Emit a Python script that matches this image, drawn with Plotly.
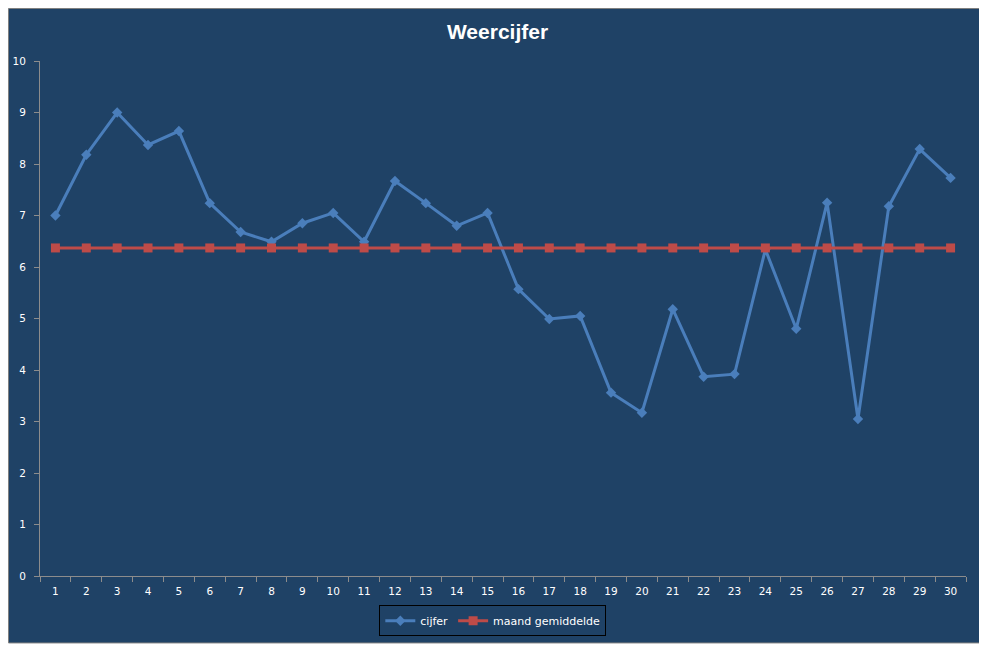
import plotly.graph_objs as go

# Data
dagen = [str(d) for d in range(1, 31)]
cijfer = [7.0, 8.18, 9.0, 8.37, 8.64, 7.24, 6.68, 6.49, 6.85, 7.05,
          6.49, 7.67, 7.24, 6.80, 7.05, 5.57, 4.99, 5.05, 3.56, 3.17,
          5.18, 3.87, 3.92, 6.34, 4.80, 7.25, 3.05, 7.18, 8.29, 7.73]
gemiddelde = [6.37] * 30

bg = '#1F4266'
white_font = dict(family='DejaVu Sans', size=10.5, color='white')

# Preparing data
data = [
    go.Scatter(x=dagen, y=cijfer, name='cijfer', mode='lines+markers',
               line=dict(color='#4A7EBB', width=3),
               marker=dict(symbol='diamond', size=8, color='#4A7EBB')),
    go.Scatter(x=dagen, y=gemiddelde, name='maand gemiddelde', mode='lines+markers',
               line=dict(color='#BE4B48', width=3),
               marker=dict(symbol='square', size=9, color='#BE4B48')),
]

# Preparing layout (page body has an 8px margin, so the figure is a bit smaller)
layout = go.Layout(
    title=dict(text='<b>Weercijfer</b>', x=0.5, xanchor='center', y=0.9625, yanchor='middle',
               font=dict(family='Liberation Sans', size=21, color='white')),
    width=979, height=640,
    margin=dict(l=32, r=21, t=53, b=72),
    paper_bgcolor='white', plot_bgcolor=bg,
    font=white_font,
    xaxis=dict(type='category', range=[-0.5, 29.5], tickson='boundaries', ticks='outside',
               ticklen=5, tickcolor='#8C8C8C', showline=True, linecolor='#8C8C8C',
               linewidth=1, showgrid=False, zeroline=False, tickfont=white_font,
               ticklabelstandoff=5, automargin=False),
    yaxis=dict(range=[0, 10], dtick=1, ticks='outside', ticklen=5, tickcolor='#8C8C8C',
               showline=True, linecolor='#8C8C8C', linewidth=1, showgrid=False,
               zeroline=False, tickfont=white_font, ticklabelstandoff=6, automargin=False),
    legend=dict(orientation='h', x=0.489, xanchor='center', y=-0.087, yanchor='middle',
                bgcolor=bg, bordercolor='black', borderwidth=1,
                font=dict(family='DejaVu Sans', size=11, color='white')),
    shapes=[dict(type='rect', xref='paper', yref='paper', layer='below',
                 x0=-0.034, x1=1.0173, y0=-0.130, y1=1.102,
                 fillcolor=bg, line=dict(color='#7F7F7F', width=1))],
    showlegend=True,
)

fig = go.Figure(data=data, layout=layout)
fig.write_html('out.html')
